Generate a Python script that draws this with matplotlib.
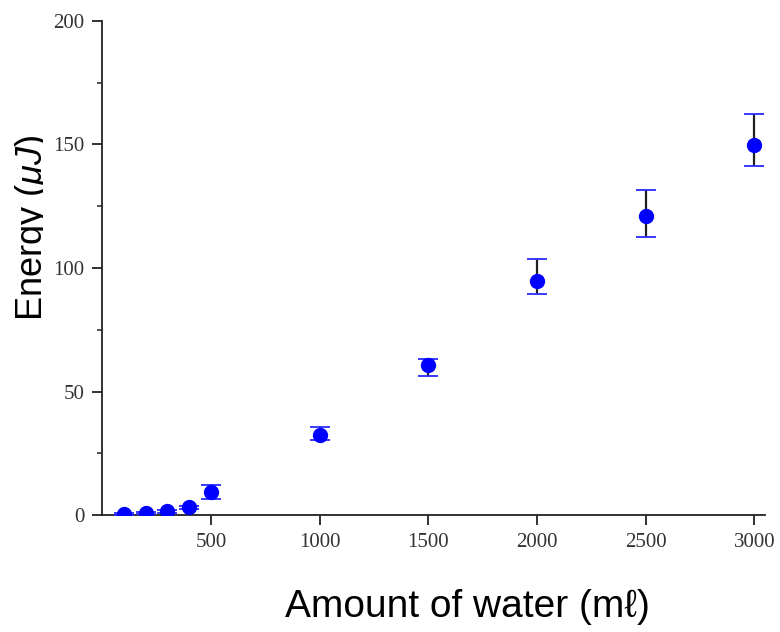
import numpy as np
import matplotlib
matplotlib.use('Agg')
import matplotlib.pyplot as plt
from matplotlib.transforms import Bbox

# data
water = [100, 200, 300, 400, 500, 1000, 1500, 2000, 2500, 3000]
energy = [0.5, 1.0, 1.5, 3.2, 9.3, 32.5, 60.7, 94.7, 121.2, 149.8]
err_low = [0.3, 0.4, 0.5, 0.6, 2.8, 2.0, 4.5, 5.2, 8.5, 8.5]
err_high = [0.3, 0.4, 0.5, 0.6, 2.8, 3.2, 2.3, 8.8, 10.2, 12.4]

x_ticks = [500, 1000, 1500, 2000, 2500, 3000]
y_ticks = [0, 50, 100, 150, 200]

plt.rcParams['mathtext.fontset'] = 'custom'
plt.rcParams['mathtext.rm'] = 'Liberation Sans'
plt.rcParams['mathtext.it'] = 'Liberation Sans:italic'

fig = plt.figure(figsize=(7.8, 6.32), dpi=100)
ax = fig.add_axes([0.131, 0.185, 0.85, 0.782])

data_line, caps, bars = ax.errorbar(water, energy, yerr=[err_low, err_high], fmt='o',
                                    color='#0000ff', ms=10, ecolor='#222222',
                                    elinewidth=1.6, capsize=7, capthick=1.3, zorder=3)
data_line.set_zorder(4)
for c in caps:
    c.set_color('#2a2aff')
    c.set_markeredgecolor('#2a2aff')

ax.set_xlim(0, 3050)
ax.set_ylim(0, 200)
ax.set_xticks(x_ticks)
ax.set_yticks(y_ticks)
ax.set_yticks(np.arange(25, 200, 50), minor=True)

for side in ['top', 'right']:
    ax.spines[side].set_visible(False)
for side in ['left', 'bottom']:
    ax.spines[side].set_linewidth(1.3)
    ax.spines[side].set_color('#222222')

ax.tick_params(axis='both', which='major', direction='out', length=7.2, width=1.3,
               color='#222222', labelsize=15, pad=5.5)
ax.tick_params(axis='y', which='minor', direction='out', length=3.6, width=1.1, color='#222222')
for lab in ax.get_xticklabels() + ax.get_yticklabels():
    lab.set_family('Liberation Serif')
    lab.set_color('#333333')

fig.text(467 / 780, 1 - 617 / 632, 'Amount of water (mℓ)', fontsize=28,
         family=['Liberation Sans', 'DejaVu Sans'], ha='center', va='baseline')

ylab = fig.text(42 / 780, 1 - 228 / 632, 'Energy $\\mathit{(\\mu J)}$', rotation=90,
                rotation_mode='anchor', fontsize=26, family='Liberation Sans',
                ha='center', va='baseline')
# the reference has the descenders cut off at the baseline
ylab.set_clip_box(Bbox.from_extents(0, 0, 42.5, 632))
ylab.set_clip_on(True)

fig.savefig('out.png', dpi=100)
